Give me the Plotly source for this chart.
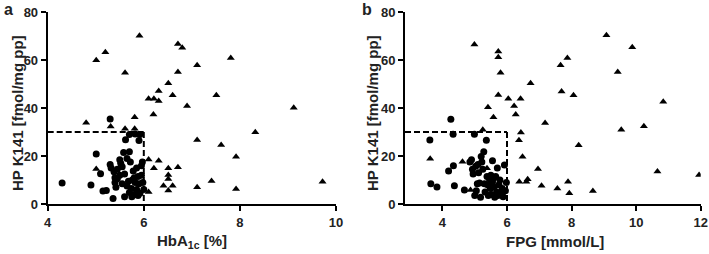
import plotly.graph_objects as go

# ---------------- data ----------------
# Panel a: HbA1c [%] vs HP K141
a_circle_x = [4.30, 4.90, 5.01, 5.10, 5.15, 5.22, 5.30, 5.30, 5.32, 5.36, 5.38, 5.40, 5.40, 5.42, 5.45,
              5.50, 5.52, 5.55, 5.58, 5.60, 5.62, 5.60, 5.65, 5.68, 5.70, 5.70, 5.72, 5.74, 5.75, 5.78,
              5.80, 5.80, 5.82, 5.82, 5.85, 5.85, 5.88, 5.90, 5.90, 5.92, 5.92, 5.95, 5.95, 5.98, 6.00,
              5.97, 5.76, 5.65, 5.55, 5.50, 5.45, 5.88, 5.70]
a_circle_y = [8.8, 7.9, 20.9, 12.6, 5.4, 5.6, 35.5, 16.5, 15.0, 2.3, 13.5, 11.0, 9.0, 7.0, 10.5,
              18.5, 17.0, 15.5, 21.5, 12.5, 26.8, 3.0, 19.0, 9.5, 21.8, 29.0, 17.5, 6.5, 3.0, 13.8,
              11.0, 4.0, 9.0, 29.2, 15.0, 6.0, 11.5, 8.5, 26.5, 29.0, 4.5, 16.0, 12.0, 9.0, 6.0,
              17.5, 10.0, 7.5, 8.5, 12.0, 14.5, 3.5, 4.8]
a_tri_x = [5.91, 6.71, 6.80, 5.20, 5.01, 7.11, 5.61, 6.71, 6.51, 6.31, 6.60, 6.10, 6.21, 6.31, 6.90,
           6.20, 5.81, 4.80, 5.31, 5.61, 5.81, 7.11, 5.01, 6.21, 6.31, 6.51, 6.71, 6.51, 6.51, 6.41,
           6.60, 6.51, 6.10, 7.11, 6.10, 7.81, 7.51, 9.12, 8.32, 7.61, 7.92, 7.41, 7.92, 9.72]
a_tri_y = [70.2, 66.8, 65.2, 63.3, 60.0, 57.9, 54.8, 55.1, 50.4, 47.2, 45.4, 43.9, 43.9, 43.0, 40.9,
           37.4, 36.2, 33.9, 32.3, 31.4, 31.4, 26.7, 14.6, 14.9, 18.1, 14.9, 15.3, 12.1, 10.4, 7.6,
           7.6, 5.6, 5.0, 7.0, 18.6, 60.9, 45.4, 40.2, 29.9, 24.6, 19.7, 9.6, 6.3, 9.3]

# Panel b: FPG [mmol/L] vs HP K141
b_circle_x = [3.61, 3.64, 3.83, 4.19, 4.26, 4.33, 4.34, 4.37, 4.68, 4.85, 4.90, 4.93, 4.95, 4.99, 5.00,
              5.03, 5.05, 5.08, 5.10, 5.12, 5.15, 5.18, 5.20, 5.22, 5.25, 5.28, 5.30, 5.32, 5.36, 5.38,
              5.40, 5.42, 5.45, 5.48, 5.50, 5.52, 5.55, 5.58, 5.60, 5.62, 5.65, 5.68, 5.70, 5.72, 5.75,
              5.78, 5.80, 5.85, 5.88, 5.92, 5.95, 5.98, 5.55]
b_circle_y = [26.7, 8.5, 7.1, 13.8, 35.4, 29.1, 16.0, 7.6, 5.8, 17.5, 18.5, 14.5, 12.5, 29.1, 3.5,
              15.8, 5.5, 8.5, 16.5, 13.0, 8.8, 2.8, 19.8, 17.5, 14.5, 21.8, 8.5, 5.0, 26.6, 11.5,
              8.0, 3.5, 10.5, 6.5, 12.0, 4.0, 9.0, 10.5, 7.0, 2.8, 11.5, 5.0, 15.0, 3.5, 8.0,
              10.0, 4.5, 6.5, 3.0, 16.3, 5.5, 9.0, 18.0]
b_tri_x = [4.99, 5.73, 5.73, 5.80, 6.73, 5.73, 6.04, 6.42, 6.22, 5.41, 6.27, 5.58, 5.25, 6.43, 6.37,
           6.48, 6.38, 6.60, 6.64, 3.62, 4.62, 4.87, 5.38,
           9.08, 9.88, 7.87, 7.66, 9.43, 7.69, 8.06, 10.84, 7.18, 10.24, 9.54, 8.22, 6.96, 10.66,
           11.95, 7.07, 7.89, 7.56, 7.93, 8.66]
b_tri_y = [66.6, 63.6, 61.2, 54.8, 50.4, 45.5, 43.9, 43.9, 40.9, 40.4, 37.3, 36.2, 31.0, 29.8, 26.6,
           19.7, 9.3, 9.3, 10.3, 18.9, 17.6, 5.8, 14.9,
           70.4, 65.4, 60.9, 57.9, 55.1, 47.0, 45.4, 42.7, 33.8, 32.4, 31.0, 24.5, 14.6, 13.6,
           12.1, 7.6, 9.3, 6.5, 4.5, 5.4]

y_ticks = [0, 20, 40, 60, 80]
a_x_ticks = [4, 6, 8, 10]
b_x_ticks = [4, 6, 8, 10, 12]
cutoff_x = 6
cutoff_y = 30

# ---------------- figure ----------------
W, H = 709, 254
FONT = "Arial, 'Liberation Sans', sans-serif"

fig = go.Figure()
mk_c = dict(symbol="circle", size=7, color="black", line=dict(width=0))
mk_t = dict(symbol="triangle-up", size=7, color="black", line=dict(width=0))

fig.add_trace(go.Scatter(x=a_circle_x, y=a_circle_y, mode="markers", marker=mk_c, xaxis="x", yaxis="y"))
fig.add_trace(go.Scatter(x=a_tri_x, y=a_tri_y, mode="markers", marker=mk_t, xaxis="x", yaxis="y"))
fig.add_trace(go.Scatter(x=b_circle_x, y=b_circle_y, mode="markers", marker=mk_c, xaxis="x2", yaxis="y2"))
fig.add_trace(go.Scatter(x=b_tri_x, y=b_tri_y, mode="markers", marker=mk_t, xaxis="x2", yaxis="y2"))

a_xmin, a_xmax = 4, 10
b_xmin, b_xmax = 2.84, 12

ax_common = dict(showline=True, linecolor="black", linewidth=2, ticks="outside", ticklen=5,
                 tickwidth=2, tickcolor="black", showgrid=False, zeroline=False, automargin=False,
                 tickfont=dict(family=FONT, size=13, color="#222", weight="bold"))

ydom = [50 / H, (H - 12.3) / H]
fig.update_layout(
    width=W, height=H, margin=dict(l=0, r=0, t=0, b=0, autoexpand=False),
    paper_bgcolor="white", plot_bgcolor="white", showlegend=False,
    xaxis=dict(domain=[47.7 / W, 336 / W], range=[a_xmin, a_xmax], tickvals=a_x_ticks,
               anchor="y", **ax_common),
    yaxis=dict(domain=ydom, range=[0, 80], tickvals=y_ticks, anchor="x", **ax_common),
    xaxis2=dict(domain=[405 / W, 700.7 / W], range=[b_xmin, b_xmax], tickvals=b_x_ticks,
                anchor="y2", **ax_common),
    yaxis2=dict(domain=ydom, range=[0, 80], tickvals=y_ticks, anchor="x2", **ax_common),
)

dash = dict(color="black", width=2, dash="6px,3px")
for xr, yr, xmin in (("x", "y", a_xmin), ("x2", "y2", b_xmin)):
    fig.add_shape(type="line", xref=xr, yref=yr, x0=xmin, x1=cutoff_x, y0=cutoff_y, y1=cutoff_y, line=dash)
    fig.add_shape(type="line", xref=xr, yref=yr, x0=cutoff_x, x1=cutoff_x, y0=cutoff_y, y1=0, line=dash)

tf = dict(family=FONT, size=15, color="#222", weight="bold")
ann = [
    dict(text="a", x=2 / W, y=1 - 9 / H, xanchor="left", yanchor="middle",
         font=dict(family=FONT, size=16, color="#222", weight="bold")),
    dict(text="b", x=360 / W, y=1 - 9 / H, xanchor="left", yanchor="middle",
         font=dict(family=FONT, size=16, color="#222", weight="bold")),
    dict(text="HP K141 [fmol/mg pp]", x=17 / W, y=1 - 113 / H, textangle=-90,
         xanchor="center", yanchor="middle", font=tf),
    dict(text="HP K141 [fmol/mg pp]", x=372 / W, y=1 - 113 / H, textangle=-90,
         xanchor="center", yanchor="middle", font=tf),
    dict(text="HbA<sub>1c</sub> [%]", x=192 / W, y=1 - 241 / H,
         xanchor="center", yanchor="middle", font=tf),
    dict(text="FPG [mmol/L]", x=555 / W, y=1 - 241 / H,
         xanchor="center", yanchor="middle", font=tf),
]
for a in ann:
    fig.add_annotation(xref="paper", yref="paper", showarrow=False, **a)

fig.write_html("out.html", config={"displayModeBar": False},
               post_script="document.body.style.margin='0px';document.body.style.overflow='hidden';")
